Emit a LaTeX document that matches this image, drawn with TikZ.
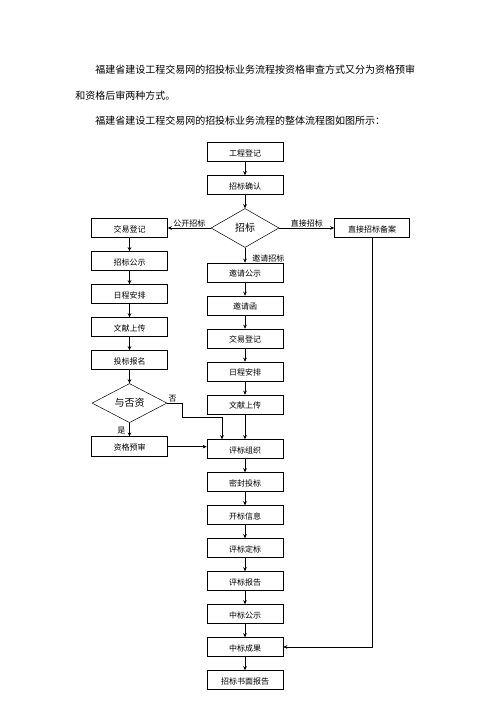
\documentclass[tikz,border=0pt]{standalone}
\usepackage{fontspec}
\setmainfont{Noto Sans CJK SC}
\usetikzlibrary{positioning,arrows.meta,shapes.geometric}
\XeTeXlinebreaklocale "zh"
\XeTeXlinebreakskip=0pt plus 1pt

\begin{document}
\begin{tikzpicture}[x=1pt,y=1pt,>={Stealth[length=4pt,width=3.5pt]},line width=0.5pt,
every node/.style={font=\fontsize{8}{9}\selectfont},
proc/.style={draw,minimum width=76pt,minimum height=19pt,inner sep=0pt,text height=10pt,text depth=1.5pt},
judge/.style={draw,diamond,inner sep=0pt,font=\fontsize{10}{12}\selectfont},
lbl/.style={font=\fontsize{8}{9}\selectfont,inner sep=1pt},
para/.style={anchor=west,inner sep=0pt,font=\fontsize{10}{12}\selectfont},
node distance=13.5pt]
\useasboundingbox (0,0) rectangle (500,707);
% intro text
\node[para] (p1) at (95,637) {\makebox[370pt][s]{福建省建设工程交易网的招投标业务流程按资格审查方式又分为资格预审}};
\node[para] (p2) at (75,611) {和资格后审两种方式。};
\node[para] (p3) at (95,586) {福建省建设工程交易网的招投标业务流程的整体流程图如图所示：};
% main column
\node[proc] (gcdj) at (245,555) {工程登记};
\node[proc,below=of gcdj] (zbqr) {招标确认};
\node[judge,minimum width=68pt,minimum height=39pt,below=of zbqr] (zb) {招标};
\node[proc,below=15pt of zb] (yqgs) {邀请公示};
\node[proc,below=of yqgs] (yqh) {邀请函};
\node[proc,below=of yqh] (jydjb) {交易登记};
\node[proc,below=of jydjb] (rcapb) {日程安排};
\node[proc,below=of rcapb] (wxscb) {文献上传};
\node[proc,below=25pt of wxscb] (pbzz) {评标组织};
\node[proc,below=of pbzz] (mftb) {密封投标};
\node[proc,below=of mftb] (kbxx) {开标信息};
\node[proc,below=of kbxx] (pbdb) {评标定标};
\node[proc,below=of pbdb] (pbbg) {评标报告};
\node[proc,below=of pbbg] (zbgsb) {中标公示};
\node[proc,below=of zbgsb] (zbcg) {中标成果};
\node[proc,below=of zbcg] (smbg) {招标书面报告};
% left column
\node[proc,left=43pt of zb] (jydj) {交易登记};
\node[proc,below=of jydj] (zbgs) {招标公示};
\node[proc,below=of zbgs] (rcap) {日程安排};
\node[proc,below=of rcap] (wxsc) {文献上传};
\node[proc,below=of wxsc] (tbbm) {投标报名};
\node[judge,minimum width=75pt,minimum height=38pt,below=of tbbm] (yfz) {与否资};
\node[proc,minimum height=20pt,below=of yfz] (zgys) {资格预审};
% right column
\node[proc,minimum width=75pt,right=55pt of zb] (zjba) {直接招标备案};
\coordinate (fz) at (222,290);
% connectors
\foreach \a/\b in {gcdj/zbqr,zbqr/zb,yqgs/yqh,yqh/jydjb,jydjb/rcapb,rcapb/wxscb,wxscb/pbzz,
  pbzz/mftb,mftb/kbxx,kbxx/pbdb,pbdb/pbbg,pbbg/zbgsb,zbgsb/zbcg,zbcg/smbg,
  jydj/zbgs,zbgs/rcap,rcap/wxsc,wxsc/tbbm,tbbm/yfz}
  \draw[->] (\a)--(\b);
\draw[->] (zb)--node[lbl,above]{公开招标}(jydj);
\draw[->] (zb)--node[lbl,above]{直接招标}(zjba);
\draw[->] (zb)--node[lbl,right,pos=0.7,xshift=6pt]{邀请招标}(yqgs);
\draw[->] (yfz)--node[lbl,left,pos=0.6,xshift=-3pt]{是}(zgys);
\draw[->] (yfz.east) node[lbl,above right]{否} -- ++(15,0) |- (fz) -- (fz |- pbzz.north);
\draw[->] (zgys.east)--(zgys.east -| pbzz.west);
\draw[->] (zjba.south) |- (zbcg.east);
\end{tikzpicture}
\end{document}
